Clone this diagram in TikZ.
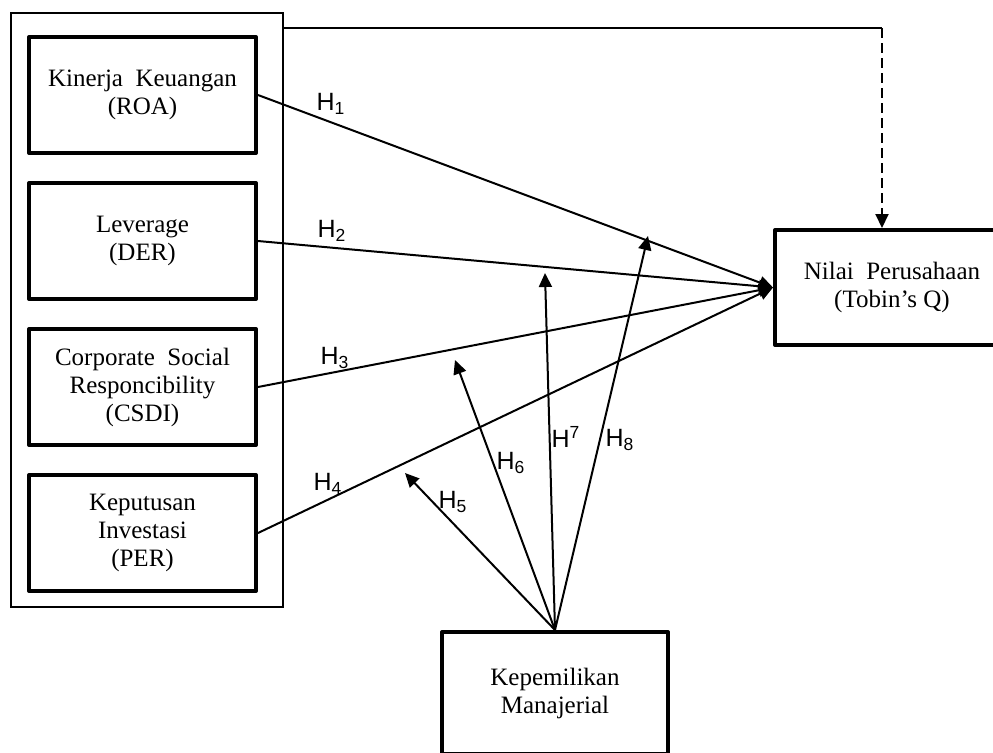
\documentclass[tikz,border=0pt]{standalone}
\usepackage{fontspec}
\setmainfont{Liberation Serif}
\newfontfamily\hfont{Liberation Sans}
\usetikzlibrary{arrows.meta,positioning}

\begin{document}
\begin{tikzpicture}[
    x=0.5pt, y=-0.5pt,
    node distance=13pt,
    varbox/.style={rectangle, draw, line width=2pt, line join=round, minimum width=113.5pt, minimum height=58pt, align=center, font=\fontsize{12.5}{14}\selectfont},
    groupbox/.style={rectangle, draw, line width=0.8pt, minimum width=136pt, minimum height=297pt},
    link/.style={line width=1pt, -{Triangle[length=7pt, width=6.5pt]}},
    hlabel/.style={font=\hfont\fontsize{12.5}{14}\selectfont, inner sep=0pt}
]
    \useasboundingbox (0,0) rectangle (993,752);

    \node[groupbox] (grp) at (147,310) {};
    \node[varbox] (roa) at (142.5,95) {Kinerja\ \ Keuangan\\(ROA)};
    \node[varbox, below=of roa] (der) {Leverage\\(DER)};
    \node[varbox, below=of der] (csdi) {Corporate\ \ Social\\Responcibility\\(CSDI)};
    \node[varbox, below=of csdi] (per) {Keputusan\\Investasi\\(PER)};
    \node[varbox, minimum width=117pt, minimum height=57.5pt] (nilai) at (892,287.5) {Nilai\ \ Perusahaan\\(Tobin’s Q)};
    \node[varbox, minimum width=113pt, minimum height=61pt] (km) at (555,693) {Kepemilikan\\Manajerial};

    % free ends of the moderating arrows
    \coordinate (t5) at (405,473);
    \coordinate (t6) at (455,360);
    \coordinate (t7) at (545,273);
    \coordinate (t8) at (648,236);
    \coordinate (bend) at (882,28);

    \draw[link] (roa.east) -- (nilai.west);
    \draw[link] (der.east) -- (nilai.west);
    \draw[link] (csdi.east) -- (nilai.west);
    \draw[link] (per.east) -- (nilai.west);
    \draw[link] (km.north) -- (t5);
    \draw[link] (km.north) -- (t6);
    \draw[link] (km.north) -- (t7);
    \draw[link] (km.north) -- (t8);
    \draw[line width=0.8pt] (grp.east |- bend) -- (bend);
    \draw[link, dash pattern=on 5pt off 2.5pt] (bend) -- (bend |- nilai.north);

    \node[hlabel] (lh1) at (331,104) {H\textsubscript{1}};
    \node[hlabel] (lh2) at (332,231) {H\textsubscript{2}};
    \node[hlabel] (lh3) at (335,358) {H\textsubscript{3}};
    \node[hlabel] (lh4) at (328,484) {H\textsubscript{4}};
    \node[hlabel] (lh5) at (453,502) {H\textsubscript{5}};
    \node[hlabel] (lh6) at (511,463) {H\textsubscript{6}};
    \node[hlabel] (lh7) at (566,437) {H\textsuperscript{7}};
    \node[hlabel] (lh8) at (620,440) {H\textsubscript{8}};
\end{tikzpicture}
\end{document}
